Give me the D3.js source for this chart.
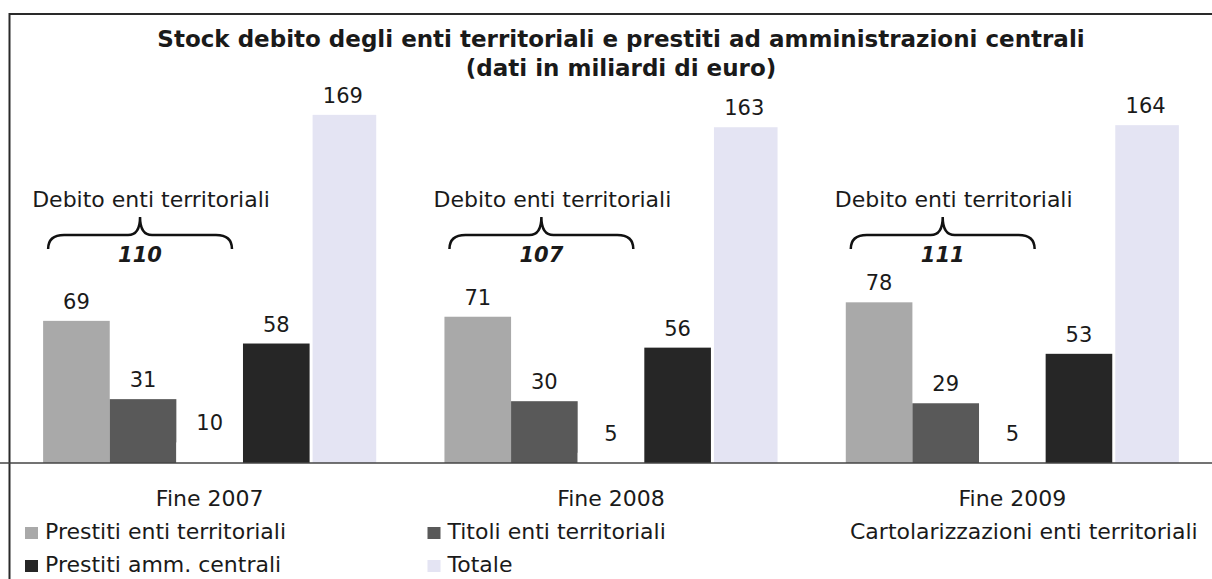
<!DOCTYPE html>
<html>
<head>
<meta charset="utf-8">
<script src="https://cdn.jsdelivr.net/npm/d3@7"></script>
<style>
  html, body { margin: 0; padding: 0; background: #ffffff; }
  svg { display: block; }
  text { font-family: "DejaVu Sans", Verdana, sans-serif; fill: #1a1a1a; }
</style>
</head>
<body>
<svg id="chart" width="1212" height="579"></svg>
<script>
// ---------- data ----------
const categories = ["Fine 2007", "Fine 2008", "Fine 2009"];
const seriesNames = [
  "Prestiti enti territoriali",
  "Titoli enti territoriali",
  "Cartolarizzazioni enti territoriali",
  "Prestiti amm. centrali",
  "Totale"
];
const prestitiEnti = [69, 71, 78];
const titoliEnti = [31, 30, 29];
const cartolarizzazioni = [10, 5, 5];
const prestitiAmm = [58, 56, 53];
const totale = [169, 163, 164];
const debitoEnti = [110, 107, 111];
const braceLabel = "Debito enti territoriali";
const titleLines = [
  "Stock debito degli enti territoriali e prestiti ad amministrazioni centrali",
  "(dati in miliardi di euro)"
];

const seriesValues = [prestitiEnti, titoliEnti, cartolarizzazioni, prestitiAmm, totale];
const seriesColors = ["#a9a9a9", "#595959", "#ffffff", "#262626", "#e4e4f3"];

// ---------- layout ----------
const W = 1212, H = 579;
const baseY = 463;
const svg = d3.select("#chart");

const x0 = d3.scaleBand().domain(categories).range([9, 1213])
  .paddingInner(0.17).paddingOuter(0.085);
const x1 = d3.scaleBand().domain(seriesNames).range([0, x0.bandwidth()]);
const y = d3.scaleLinear().domain([0, 200]).range([baseY, 51]);
const color = d3.scaleOrdinal().domain(seriesNames).range(seriesColors);

// frame
svg.append("line").attr("x1", 9).attr("x2", W).attr("y1", 14).attr("y2", 14)
  .attr("stroke", "#2a2a2a").attr("stroke-width", 2);
svg.append("line").attr("x1", 9.5).attr("x2", 9.5).attr("y1", 13).attr("y2", H)
  .attr("stroke", "#2a2a2a").attr("stroke-width", 2);

// title
svg.append("g").selectAll("text").data(titleLines).join("text")
  .attr("x", 621).attr("y", (d, i) => 47 + i * 29)
  .attr("text-anchor", "middle")
  .style("font-weight", "bold").style("font-size", "23px")
  .text(d => d);

// bars
const rows = categories.map((c, ci) => ({
  cat: c,
  items: seriesNames.map((s, si) => ({ series: s, value: seriesValues[si][ci] }))
}));

const groups = svg.append("g").selectAll("g").data(rows).join("g")
  .attr("transform", d => `translate(${x0(d.cat)},0)`);

const gapBefore = s => (s === "Totale" ? 3 : 0);

groups.selectAll("rect").data(d => d.items).join("rect")
  .attr("x", d => x1(d.series) + gapBefore(d.series))
  .attr("width", d => x1.bandwidth() - gapBefore(d.series))
  .attr("y", d => y(d.value))
  .attr("height", d => y(0) - y(d.value))
  .attr("fill", d => color(d.series));

groups.selectAll("text.val").data(d => d.items).join("text")
  .attr("class", "val")
  .attr("x", d => x1(d.series) + x1.bandwidth() / 2)
  .attr("y", d => y(d.value) - 12)
  .attr("text-anchor", "middle")
  .style("font-size", "21px")
  .text(d => d.value);

// braces for "Debito enti territoriali"
groups.each(function(d, i) {
  const g = d3.select(this);
  const left = x1(seriesNames[0]) + 5;
  const right = x1(seriesNames[2]) + x1.bandwidth() - 11;
  const tip = (left + right) / 2;
  const yTip = 217, yArm = 235, yEnd = 249;
  const p = d3.path();
  p.moveTo(left, yEnd);
  p.quadraticCurveTo(left, yArm, left + 16, yArm);
  p.lineTo(tip - 12, yArm);
  p.quadraticCurveTo(tip, yArm, tip, yTip);
  p.quadraticCurveTo(tip, yArm, tip + 12, yArm);
  p.lineTo(right - 16, yArm);
  p.quadraticCurveTo(right, yArm, right, yEnd);
  g.append("path").attr("d", p.toString())
    .attr("fill", "none").attr("stroke", "#111").attr("stroke-width", 2.5);
  g.append("text").attr("x", tip + 11).attr("y", 207)
    .attr("text-anchor", "middle").style("font-size", "22px")
    .text(braceLabel);
  g.append("text").attr("x", tip).attr("y", 262)
    .attr("text-anchor", "middle")
    .style("font-size", "21px").style("font-weight", "bold").style("font-style", "italic")
    .text(debitoEnti[i]);
});

// baseline
svg.append("line").attr("x1", 0).attr("x2", W).attr("y1", baseY).attr("y2", baseY)
  .attr("stroke", "#444").attr("stroke-width", 1.5);

// category axis
const xAxis = d3.axisBottom(x0).tickSize(0).tickPadding(0);
const axG = svg.append("g").attr("transform", `translate(0,${baseY})`).call(xAxis);
axG.select(".domain").remove();
axG.selectAll("text").attr("y", 43).attr("dy", null)
  .style("font-size", "22px").style("font-family", "'DejaVu Sans', sans-serif")
  .attr("fill", "#1a1a1a");

// legend
const legend = svg.append("g").selectAll("g").data(seriesNames).join("g")
  .attr("transform", (d, i) => `translate(${25 + (i % 3) * 402.5},${i < 3 ? 539 : 572})`);
legend.append("rect").attr("x", 0).attr("y", -12).attr("width", 13).attr("height", 12)
  .attr("fill", d => color(d));
legend.append("text").attr("x", 20).attr("y", 0)
  .style("font-size", "22px").text(d => d);
</script>
</body>
</html>
